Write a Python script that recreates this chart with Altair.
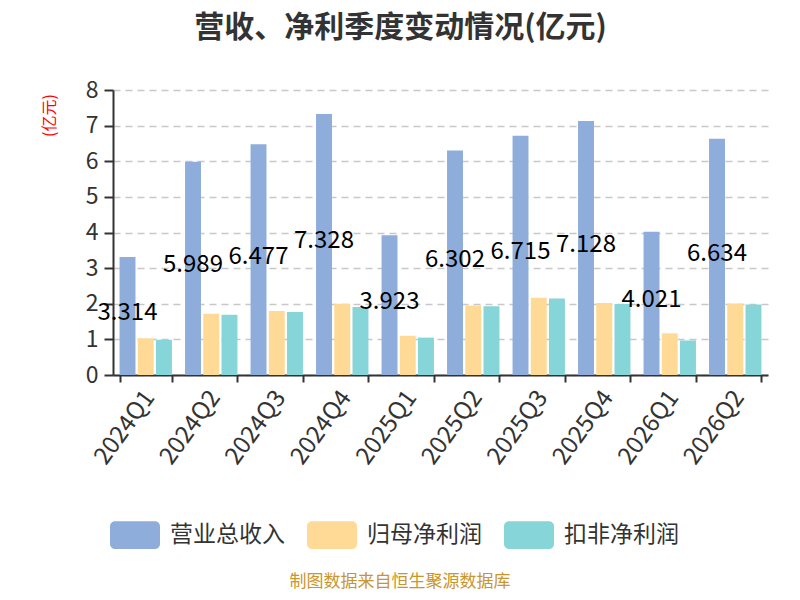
import altair as alt
import pandas as pd

quarters = ["2024Q1", "2024Q2", "2024Q3", "2024Q4", "2025Q1",
            "2025Q2", "2025Q3", "2025Q4", "2026Q1", "2026Q2"]
series = ["营业总收入", "归母净利润", "扣非净利润"]
revenue = [3.314, 5.989, 6.477, 7.328, 3.923, 6.302, 6.715, 7.128, 4.021, 6.634]
parent_np = [1.03, 1.72, 1.80, 2.00, 1.10, 1.95, 2.17, 2.02, 1.17, 2.01]
deducted_np = [0.99, 1.69, 1.77, 1.91, 1.05, 1.93, 2.15, 1.99, 0.97, 1.98]
y_ticks = [0, 1, 2, 3, 4, 5, 6, 7, 8]
colors = ["#8eaddb", "#ffd996", "#86d5d8"]
title_text = "营收、净利季度变动情况(亿元)"
source_text = "制图数据来自恒生聚源数据库"

rows = []
for s, vals in zip(series, [revenue, parent_np, deducted_np]):
    for q, v in zip(quarters, vals):
        rows.append({"quarter": q, "series": s, "value": v})
df = pd.DataFrame(rows)

FONT = "Noto Sans CJK SC"
legend_path = ("M-0.8,-0.554H0.8A0.2,0.2,0,0,1,1,-0.354V0.354"
               "A0.2,0.2,0,0,1,0.8,0.554H-0.8A0.2,0.2,0,0,1,-1,0.354"
               "V-0.354A0.2,0.2,0,0,1,-0.8,-0.554Z")

x_axis = alt.Axis(title=None, tickBand="extent", labelAngle=-54,
                  labelAlign="right", labelBaseline="top",
                  labelFontSize=24, labelColor="#333", labelFont=FONT,
                  tickSize=7, tickWidth=2, tickColor="#333",
                  domainColor="#333", domainWidth=2, labelPadding=4,
                  labelOffset=-6, labelOverlap=False, grid=False)
y_axis = alt.Axis(values=y_ticks, title="(亿元)",
                  titleColor="red", titleFontSize=16, titleFontWeight="normal",
                  titleFont=FONT, titleX=-64, titleY=25, titleAngle=270,
                  titleAlign="center", titleBaseline="middle",
                  labelFontSize=23, labelColor="#333", labelFont=FONT,
                  labelOverlap=False,
                  tickSize=9, tickWidth=2, tickColor="#333",
                  domainColor="#333", domainWidth=2, labelPadding=6,
                  grid=True, gridColor="#c8c8c8", gridDash=[7, 5],
                  gridWidth=1.5)
x_scale = alt.Scale(paddingInner=0.2, paddingOuter=0.1)
xoff_scale = alt.Scale(paddingInner=0.126, paddingOuter=0)
y_scale = alt.Scale(domain=[0, 8])

base = alt.Chart(df)

bars = base.mark_bar().encode(
    x=alt.X("quarter:N", sort=quarters, scale=x_scale, axis=x_axis),
    xOffset=alt.XOffset("series:N", sort=series, scale=xoff_scale),
    y=alt.Y("value:Q", scale=y_scale, axis=y_axis),
    color=alt.Color("series:N", sort=series,
                    scale=alt.Scale(domain=series, range=colors),
                    legend=alt.Legend(title=None, orient="none", legendX=-3,
                                      legendY=420, direction="horizontal",
                                      symbolType=legend_path, symbolSize=2500,
                                      symbolStrokeWidth=0, symbolOpacity=1,
                                      labelFontSize=23, labelColor="#333",
                                      labelFont=FONT, labelOffset=10,
                                      columnPadding=22, padding=0)),
)

labels = base.transform_filter(
    alt.datum.series == series[0]
).transform_calculate(
    half="datum.value / 2"
).mark_text(fontSize=24, color="#000", font=FONT, baseline="middle",
            align="center", dy=-3).encode(
    x=alt.X("quarter:N", sort=quarters, scale=x_scale, axis=x_axis),
    xOffset=alt.XOffset("series:N", sort=series, scale=xoff_scale),
    y=alt.Y("half:Q", scale=y_scale, axis=y_axis),
    text=alt.Text("value:Q", format=".3f"),
)

footer = alt.Chart(pd.DataFrame({"t": [source_text]})).mark_text(
    fontSize=17, color="#c9952d", font=FONT, align="center", baseline="middle"
).encode(x=alt.value(287), y=alt.value(492), text="t:N")

chart = alt.layer(bars, labels, footer).properties(
    width=655, height=285,
    autosize=alt.AutoSizeParams(type="none"),
    padding={"left": 105, "top": 82, "right": 24, "bottom": 217},
    title=alt.TitleParams(title_text, fontSize=30, fontWeight="bold", color="#333",
                          font=FONT, anchor="middle", dx=-40, offset=36),
).configure_view(stroke=None)

chart.save("out.html", embed_options={"renderer": "svg", "actions": False})
